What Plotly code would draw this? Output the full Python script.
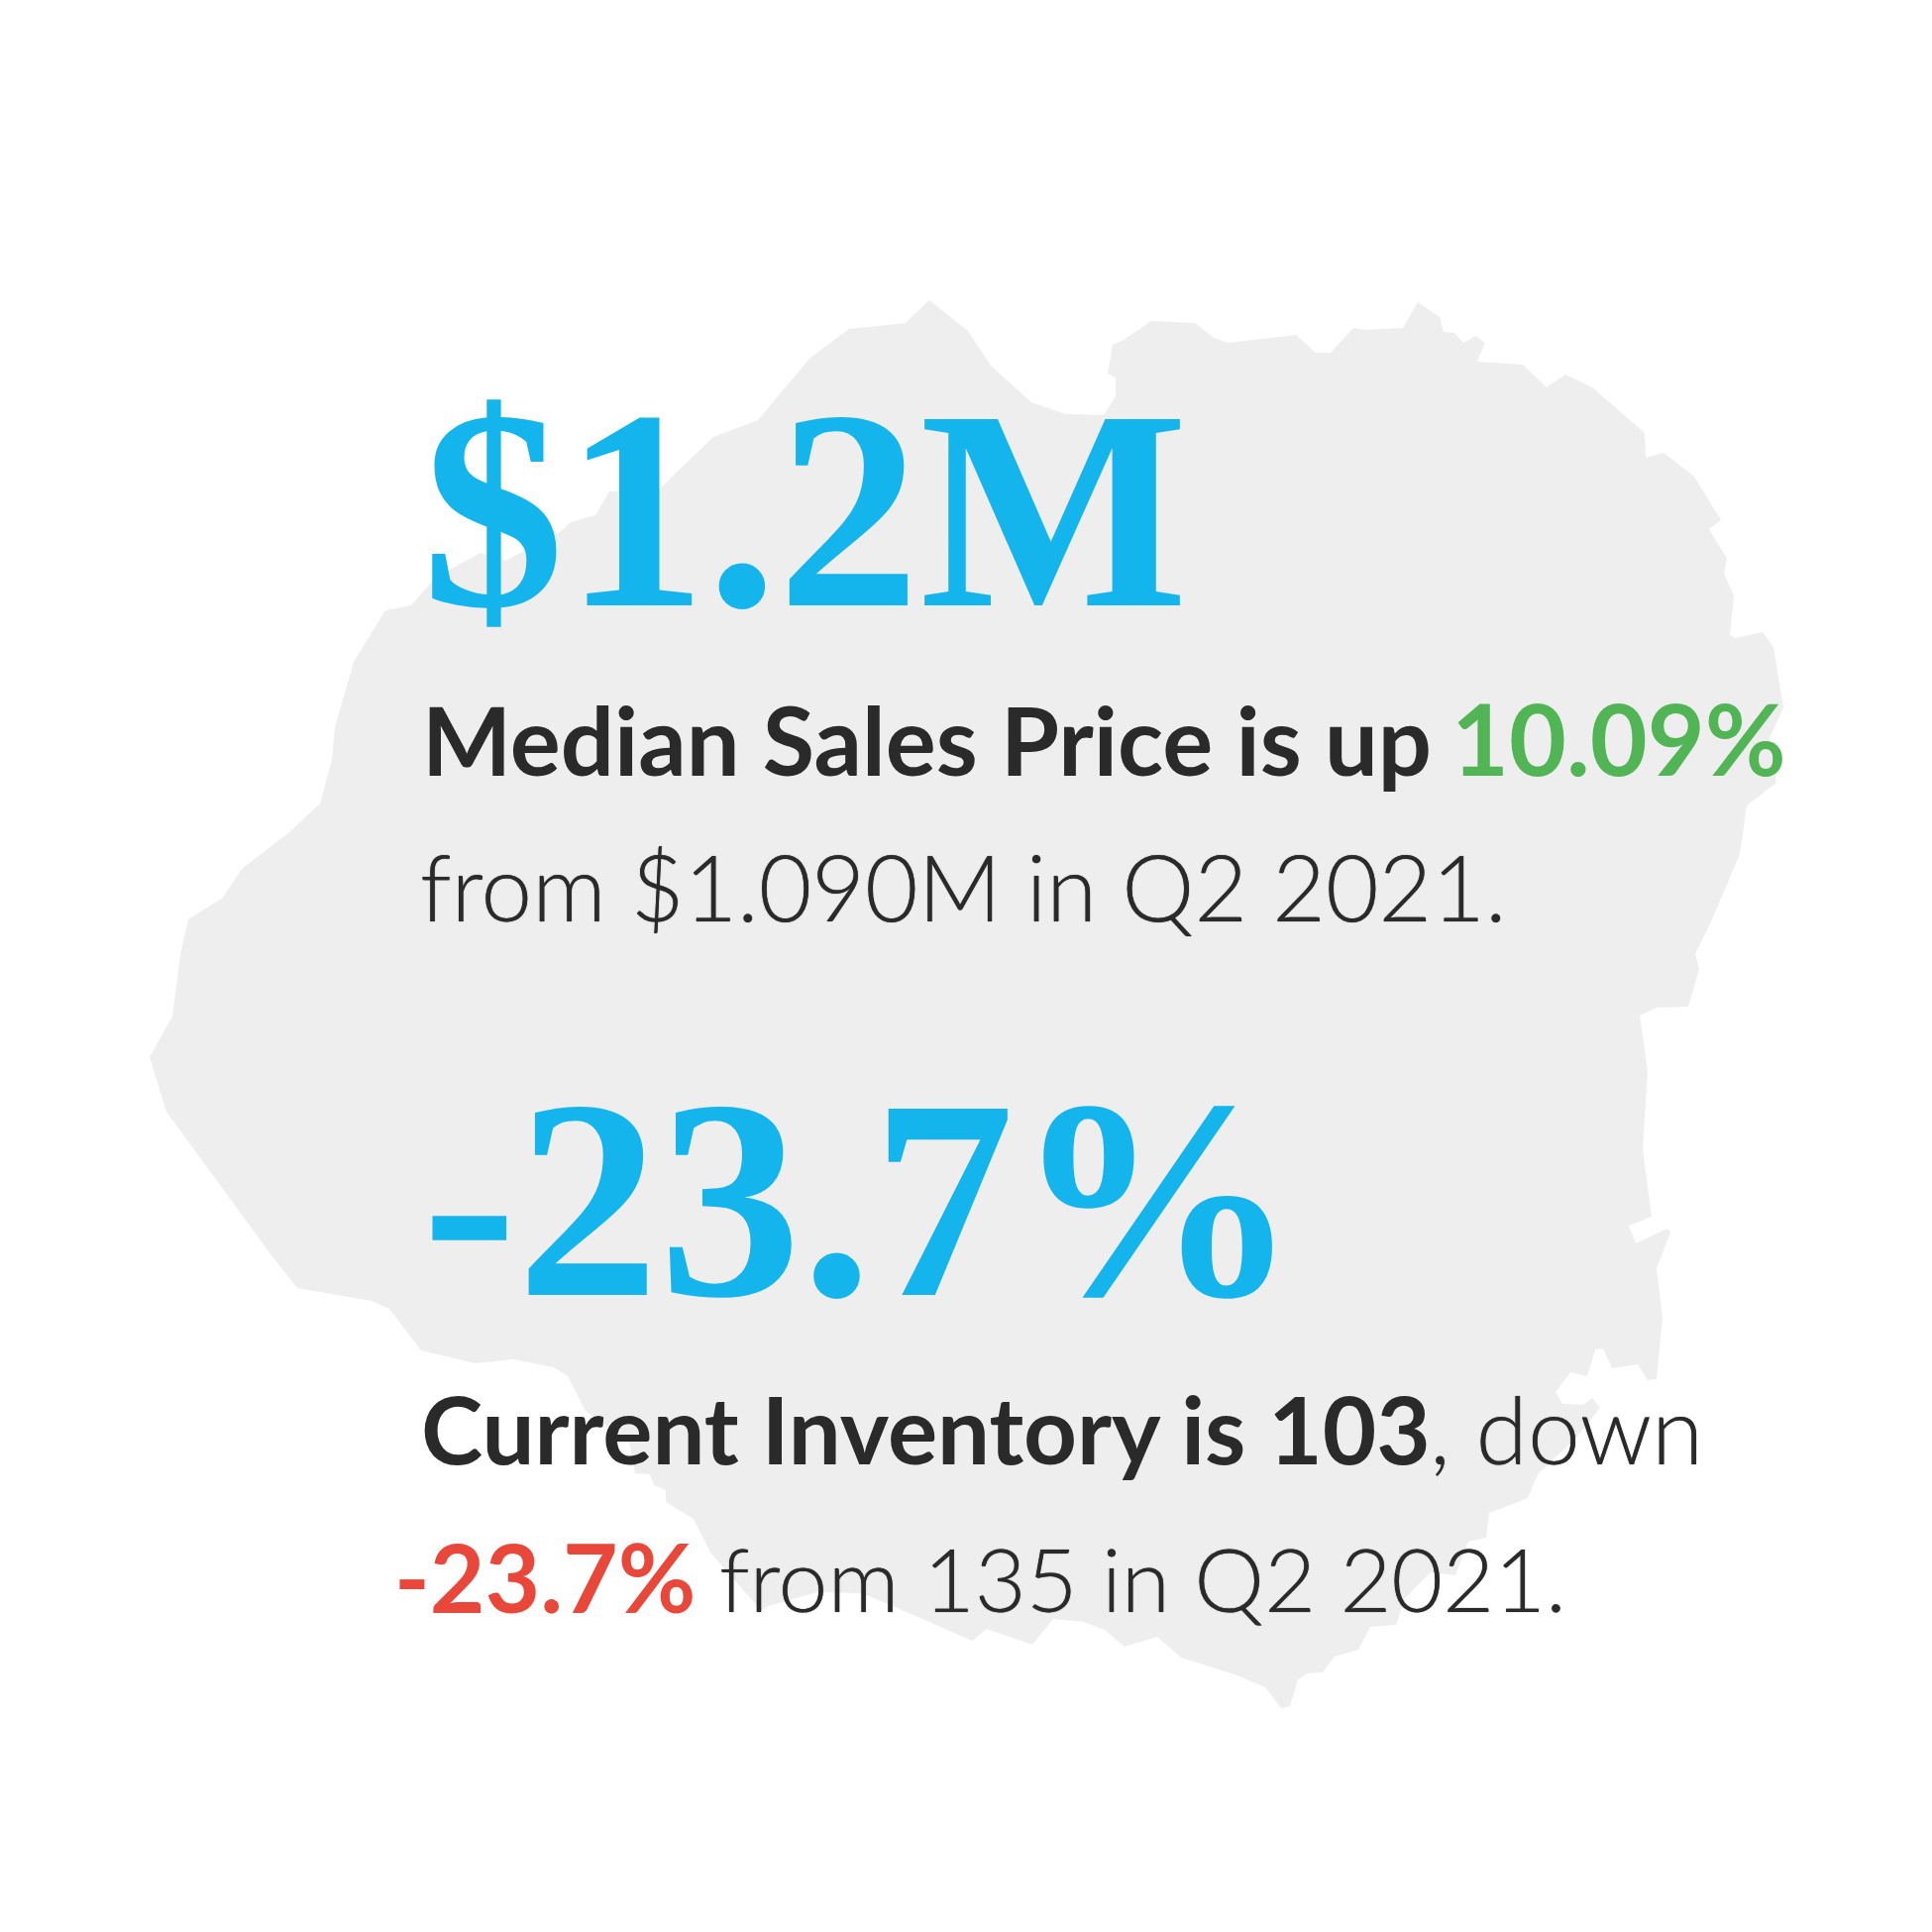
import plotly.graph_objects as go

# island outline
outline_x = [938, 977, 1000, 1041, 1076, 1114, 1126, 1126, 1118, 1123, 1134, 1162, 1206, 1225, 1240, 1308, 1328, 1343, 1366, 1377,
             1416, 1431, 1453, 1457, 1468, 1477, 1489, 1499, 1491, 1537, 1561, 1580, 1607, 1660, 1661, 1679, 1710, 1737, 1725, 1743,
             1740, 1750, 1746, 1751, 1779, 1790, 1800, 1786, 1793, 1763, 1756, 1727, 1711, 1715, 1704, 1672, 1655, 1663, 1658, 1667,
             1644, 1651, 1683, 1686, 1672, 1678, 1672, 1663, 1653, 1627, 1618, 1610, 1602, 1585, 1570, 1577, 1598, 1607, 1615, 1590,
             1552, 1542, 1503, 1500, 1482, 1469, 1444, 1418, 1409, 1383, 1371, 1347, 1335, 1319, 1310, 1302, 1293, 1277, 1246, 1192,
             1168, 1135, 1115, 1093, 1063, 1042, 996, 981, 915, 870, 825, 778, 768, 717, 700, 672, 672, 660, 656, 641,
             635, 591, 573, 559, 518, 479, 425, 393, 375, 300, 274, 168, 151, 174, 182, 190, 225, 244, 292, 323,
             335, 338, 357, 389, 415, 439, 485, 510, 565, 576, 601, 615, 663, 720, 765, 818, 857, 914]
outline_y = [303, 334, 369, 406, 418, 419, 400, 381, 377, 348, 343, 324, 326, 341, 346, 338, 356, 356, 331, 333,
             331, 305, 320, 335, 336, 346, 339, 346, 365, 368, 391, 378, 391, 437, 462, 457, 481, 525, 534, 564,
             579, 601, 641, 644, 638, 653, 714, 745, 790, 813, 862, 930, 963, 978, 1016, 1017, 1025, 1081, 1160, 1228,
             1237, 1255, 1240, 1244, 1280, 1330, 1392, 1393, 1377, 1381, 1361, 1362, 1389, 1385, 1405, 1417, 1418, 1411, 1421, 1452,
             1488, 1512, 1527, 1552, 1556, 1590, 1587, 1613, 1640, 1642, 1665, 1672, 1688, 1689, 1695, 1722, 1724, 1703, 1690, 1673,
             1652, 1662, 1645, 1637, 1634, 1660, 1644, 1656, 1627, 1608, 1607, 1620, 1625, 1567, 1533, 1516, 1504, 1499, 1488, 1487,
             1456, 1424, 1389, 1380, 1372, 1376, 1363, 1321, 1313, 1300, 1267, 1122, 1067, 1026, 964, 928, 906, 877, 840, 811,
             767, 734, 668, 616, 611, 583, 558, 566, 537, 527, 520, 496, 496, 441, 424, 361, 332, 326]

headlines = ['$1.2M', '-23.7%']
headline_x = [424, 424]
headline_y = [612, 1308]

# text pieces of the four sentences
seg_text = ['Median Sales Price is up', '10.09%', 'from $1.090M in Q2 2021.',
            'Current Inventory is 103', ', down', '-23.7%', 'from 135 in Q2 2021.']
seg_x = [424, 1463, 422, 423, 1441, 396, 724]
seg_y = [781, 781, 929, 1476, 1476, 1626, 1626]
seg_size = [95.5, 100, 92.5, 94, 95, 96, 89.5]
seg_weight = [700, 700, 300, 700, 300, 700, 300]
seg_color = ['#2A2A2A', '#51B555', '#2A2A2A', '#2A2A2A', '#2A2A2A', '#E8473A', '#2A2A2A']

fig = go.Figure()
fig.add_trace(go.Scatter(x=outline_x, y=outline_y, mode='lines', fill='toself', fillcolor='#EEEEEE',
                         line=dict(width=0), hoverinfo='skip', showlegend=False))

for t, x, y in zip(headlines, headline_x, headline_y):
    fig.add_annotation(x=x, y=y + 63, text=t, showarrow=False, xanchor='left', yanchor='bottom',
                       font=dict(family='Liberation Serif', size=287, color='#14B5EC', weight=700))

for t, x, y, s, w, c in zip(seg_text, seg_x, seg_y, seg_size, seg_weight, seg_color):
    fig.add_annotation(x=x, y=y + s * 0.25, text=t, showarrow=False, xanchor='left', yanchor='bottom',
                       font=dict(family='Lato', size=s, color=c, weight=w,
                                 shadow='0 0 1px ' + c if w == 300 else 'none'))

fig.update_layout(width=1950, height=1950, margin=dict(l=0, r=0, t=0, b=0),
                  paper_bgcolor='white', plot_bgcolor='white',
                  xaxis=dict(range=[0, 1950], visible=False),
                  yaxis=dict(range=[1950, 0], visible=False))
fig.write_html("out.html", config=dict(displayModeBar=False), post_script="document.body.style.margin='0';")
